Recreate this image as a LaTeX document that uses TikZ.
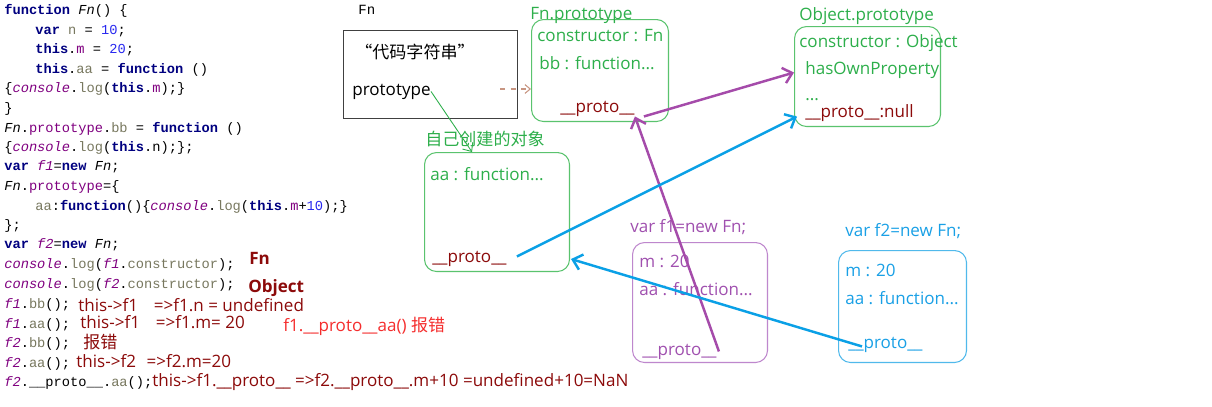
\documentclass[tikz,border=0pt]{standalone}
\usepackage{fontspec}
\setmainfont{Open Sans}
\setmonofont{Liberation Mono}
\newfontfamily\cjk{Noto Sans CJK SC}
\usetikzlibrary{arrows.meta,calc}
\definecolor{kwblue}{RGB}{0,0,128}
\definecolor{numblue}{RGB}{40,40,240}
\definecolor{idgray}{RGB}{120,120,95}
\definecolor{proppurple}{RGB}{128,0,128}
\definecolor{txtgreen}{RGB}{45,175,75}
\definecolor{boxgreen}{RGB}{90,195,110}
\definecolor{darkred}{RGB}{140,10,10}
\definecolor{brightred}{RGB}{245,45,45}
\definecolor{fonepurple}{RGB}{160,80,175}
\definecolor{fonebox}{RGB}{190,135,205}
\definecolor{arrpurple}{RGB}{165,75,170}
\definecolor{ftwoblue}{RGB}{25,160,230}
\definecolor{ftwobox}{RGB}{80,185,235}
\definecolor{arrblue}{RGB}{10,160,230}
\definecolor{dashbrown}{RGB}{200,150,130}
\newcommand{\kw}[1]{\textcolor{kwblue}{\textbf{#1}}}
\newcommand{\nm}[1]{\textcolor{numblue}{#1}}
\newcommand{\idt}[1]{\textcolor{idgray}{#1}}
\newcommand{\prp}[1]{\textcolor{proppurple}{#1}}
\newcommand{\itp}[1]{\textcolor{proppurple}{\textit{#1}}}
\newcommand{\itk}[1]{\textit{#1}}

\begin{document}
\begin{tikzpicture}[x=0.02cm,y=-0.02cm,
    code/.style={font=\ttfamily\fontsize{7.8}{9}\selectfont, anchor=base west, inner sep=0pt},
    lbl/.style={font=\fontsize{9.7}{11}\selectfont, anchor=base west, inner sep=0pt},
    rbold/.style={lbl, font=\fontsize{9.7}{11}\selectfont\bfseries, text=darkred},
    gbox/.style={draw=boxgreen, line width=0.6pt, rounded corners=0.24cm, anchor=north west, inner sep=0pt},
    pbox/.style={gbox, draw=fonebox},
    bbox/.style={gbox, draw=ftwobox},
    fat/.style={line width=1.4pt, -{Straight Barb[length=5pt,width=9pt]}}]
  \fill[white] (0,0) rectangle (1212,406);
  \useasboundingbox (0,0) rectangle (1212,406);
  % code on the left
  \foreach \n/\x/\y/\codeline in {
      1/4/14/{\kw{function} \itk{Fn}() \{},
      2/35/34/{\kw{var} \idt{n} = \nm{10};},
      3/35/53/{\kw{this}.\prp{m} = \nm{20};},
      4/35/73/{\kw{this}.\idt{aa} = \kw{function} ()},
      5/4/92/{\{\itp{console}.\idt{log}(\kw{this}.\prp{m});\}},
      6/4/112/{\}},
      7/4/132/{\itk{Fn}.\prp{prototype}.\idt{bb} = \kw{function} ()},
      8/4/151/{\{\itp{console}.\idt{log}(\kw{this}.n);\};},
      9/4/170/{\kw{var} \itp{f1}=\kw{new} \itk{Fn};},
      10/4/190/{\itk{Fn}.\prp{prototype}=\{},
      11/35/210/{\idt{aa}:\kw{function}()\{\itp{console}.\idt{log}(\kw{this}.\prp{m}+\nm{10});\}},
      12/4/229/{\};},
      13/4/248/{\kw{var} \itp{f2}=\kw{new} \itk{Fn};},
      14/4/268/{\itp{console}.\idt{log}(\itp{f1}.\idt{constructor});},
      15/4/288/{\itp{console}.\idt{log}(\itp{f2}.\idt{constructor});},
      16/4/308/{\itp{f1}.\idt{bb}();},
      17/4/328/{\itp{f1}.\idt{aa}();},
      18/4/347/{\itp{f2}.\idt{bb}();},
      19/4/367/{\itp{f2}.\idt{aa}();},
      20/4/386/{\itp{f2}.\_\_proto\_\_.\idt{aa}();}}
    \node[code] (c\n) at (\x,\y) {\codeline};
  % notes in red
  \node[rbold] (nfn) at (249,264) {Fn};
  \node[rbold] (nobj) at (248,292) {Object};
  \node[lbl, text=darkred] (na) at (78,311) {this->f1\hspace{9pt}=>f1.n = undefined};
  \node[lbl, text=darkred] (nb) at (80,328) {this->f1\hspace{9pt}=>f1.m= 20};
  \node[lbl, text=darkred] (nc) at (83,348) {\cjk 报错};
  \node[lbl, text=darkred] (nd) at (76,367) {this->f2\hspace{6pt}=>f2.m=20};
  \node[lbl, text=darkred] (ne) at (152,386) {this->f1.\_\_proto\_\_ =>f2.\_\_proto\_\_.m+10 =undefined+10=NaN};
  \node[lbl, text=brightred] (nf) at (283,331) {f1.\_\_proto\_\_aa() {\cjk 报错}};
  % Fn
  \node[code, font=\ttfamily\fontsize{8}{9}\selectfont] (fnname) at (358,14) {Fn};
  \node[draw=black!75, line width=0.6pt, anchor=north west, inner sep=0pt,
        minimum width=3.48cm, minimum height=1.76cm] (fnbox) at (343,30) {};
  \node[lbl] (fncode) at (355,58) {\cjk “代码字符串”};
  \node[lbl] (fnproto) at (352,95) {prototype};
  % Fn.prototype
  \node[gbox, minimum width=2.74cm, minimum height=2.04cm] (fpbox) at (531,19) {};
  \node[lbl, text=txtgreen] (fptitle) at (530,19) {Fn.prototype};
  \node[lbl, text=txtgreen] (fpcons) at (537,41) {constructor : Fn};
  \node[lbl, text=txtgreen] (fpbb) at (539,69) {bb : function...};
  \node[lbl, text=darkred] (fppr) at (560,112) {\_\_proto\_\_};
  % Object.prototype
  \node[gbox, minimum width=2.92cm, minimum height=2cm] (obbox) at (794,26) {};
  \node[lbl, text=txtgreen] (obtitle) at (799,20) {Object.prototype};
  \node[lbl, text=txtgreen] (obcons) at (799,47) {constructor : Object};
  \node[lbl, text=txtgreen] (obhas) at (805,74) {hasOwnProperty};
  \node[lbl, text=txtgreen] (obdots) at (805,100) {...};
  \node[lbl, text=darkred] (obpr) at (805,117) {\_\_proto\_\_:null};
  % own object
  \node[lbl, text=txtgreen] (owntitle) at (425,145) {\cjk 自己创建的对象};
  \node[gbox, minimum width=2.9cm, minimum height=2.38cm] (ownbox) at (424,152) {};
  \node[lbl, text=txtgreen] (ownaa) at (430,180) {aa : function...};
  \node[lbl, text=darkred] (ownpr) at (432,262) {\_\_proto\_\_};
  % f1
  \node[lbl, text=fonepurple] (f1title) at (630,232) {var f1=new Fn;};
  \node[pbox, minimum width=2.7cm, minimum height=2.4cm] (f1box) at (632,242) {};
  \node[lbl, text=fonepurple] (f1m) at (639,267) {m : 20};
  \node[lbl, text=fonepurple] (f1aa) at (639,295) {aa : function...};
  \node[lbl, text=fonepurple] (f1pr) at (642,355) {\_\_proto\_\_};
  % f2
  \node[lbl, text=ftwoblue] (f2title) at (845,236) {var f2=new Fn;};
  \node[bbox, minimum width=2.56cm, minimum height=2.24cm] (f2box) at (838,250) {};
  \node[lbl, text=ftwoblue] (f2m) at (845,276) {m : 20};
  \node[lbl, text=ftwoblue] (f2aa) at (845,304) {aa : function...};
  \node[lbl, text=ftwoblue] (f2pr) at (848,348) {\_\_proto\_\_};
  % arrows
  \coordinate (dashstart) at (500,89);
  \draw[dashbrown, dashed, line width=0.6pt, -{Straight Barb[length=3pt,width=5pt]}]
    (dashstart) -- (dashstart -| fpbox.west);
  \draw[txtgreen, line width=0.5pt, -{Straight Barb[length=4pt,width=7pt]}]
    (fnproto.east) -- ($(ownbox.north west)+(48,0)$);
  \draw[fat, arrpurple] ($(f1pr.east)+(2,0)$) -- (fppr.south east);
  \draw[fat, arrpurple] ($(fppr.south east)+(9,0)$) -- ($(obbox.west)+(0,-4)$);
  \draw[fat, arrblue] ($(ownpr.east)+(10,-2)$) -- ($(obpr.west)+(-8,4)$);
  \draw[fat, arrblue] ($(f2pr.west)+(14,2)$) -- ($(ownbox.south east)+(1,-13)$);
\end{tikzpicture}
\end{document}
